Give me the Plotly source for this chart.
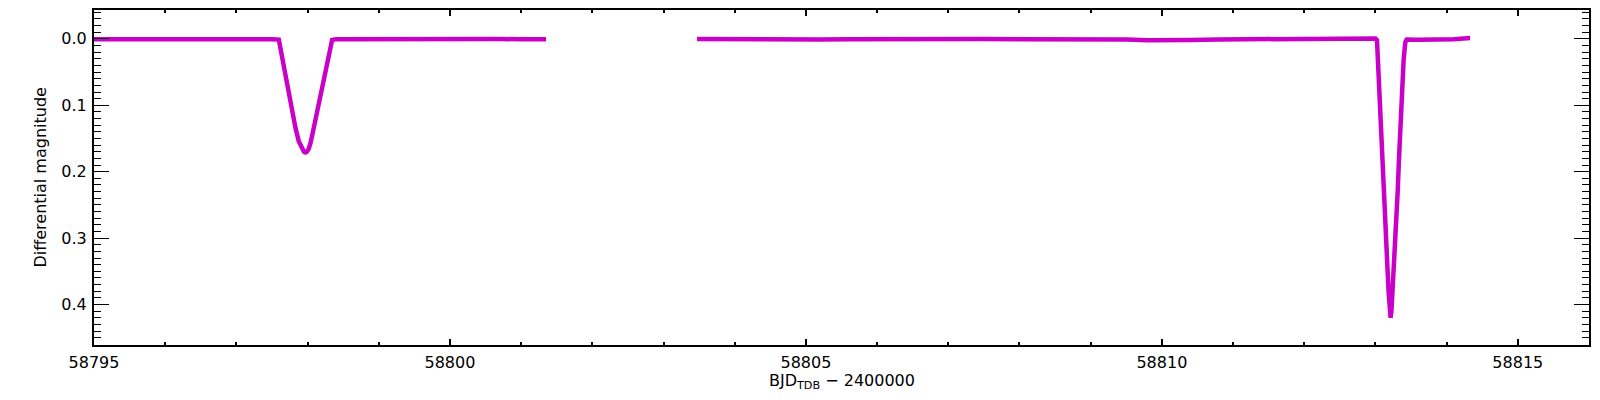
import plotly.graph_objects as go

# ---- data ----
# Segment 1 (before the data gap), contains the shallower eclipse
time_seg1 = [58795.00, 58795.40, 58795.80, 58796.20, 58796.60, 58797.00, 58797.30, 58797.50,
             58797.596, 58797.619, 58797.657, 58797.690, 58797.736, 58797.783, 58797.830, 58797.876,
             58797.924, 58797.950, 58797.970, 58797.990, 58798.015, 58798.041, 58798.087, 58798.135,
             58798.181, 58798.228, 58798.275, 58798.312, 58798.345, 58798.40, 58798.70,
             58799.10, 58799.50, 58799.90, 58800.30, 58800.70, 58801.00, 58801.35]
mag_seg1 = [0.0005, 0.0003, 0.0000, 0.0004, 0.0001, 0.0000, 0.0002, 0.0005,
            0.0010, 0.014, 0.034, 0.059, 0.084, 0.109, 0.134, 0.154,
            0.167, 0.170, 0.171, 0.170, 0.166, 0.157, 0.134, 0.109,
            0.084, 0.059, 0.031, 0.0115, 0.0015, 0.0005, 0.0003,
            0.0004, 0.0002, 0.0003, 0.0001, 0.0002, 0.0006, 0.0004]

# Segment 2 (after the data gap), contains the deeper eclipse
time_seg2 = [58803.47, 58803.90, 58804.30, 58804.60, 58804.90, 58805.20, 58805.60, 58806.00,
             58806.50, 58807.00, 58807.50, 58808.00, 58808.50, 58809.00, 58809.50, 58809.80,
             58810.10, 58810.40, 58810.80, 58811.20, 58811.60, 58812.00, 58812.40, 58812.80,
             58813.00, 58813.022, 58813.036, 58813.059, 58813.078, 58813.101, 58813.125, 58813.143,
             58813.163, 58813.185, 58813.200, 58813.213, 58813.226, 58813.241, 58813.269, 58813.293,
             58813.312, 58813.331, 58813.350, 58813.368, 58813.396, 58813.420, 58813.440, 58813.60,
             58813.90, 58814.10, 58814.33]
mag_seg2 = [0.0000, 0.0003, 0.0012, 0.0022, 0.0018, 0.0010, 0.0005, 0.0008,
            0.0004, 0.0006, 0.0003, 0.0005, 0.0002, 0.0000, 0.0008, 0.0020,
            0.0024, 0.0018, 0.0008, 0.0005, 0.0006, 0.0003, 0.0002, -0.0008,
            -0.0005, 0.0020, 0.0315, 0.0815, 0.131, 0.181, 0.231, 0.281,
            0.331, 0.381, 0.408, 0.420, 0.408, 0.381, 0.331, 0.281,
            0.231, 0.181, 0.131, 0.0815, 0.0315, 0.0050, 0.0010, 0.0012,
            0.0015, 0.0005, -0.0012]

x_tick_vals = [58795, 58800, 58805, 58810, 58815]
x_tick_text = ["58795", "58800", "58805", "58810", "58815"]
y_tick_vals = [0.0, 0.1, 0.2, 0.3, 0.4]
y_tick_text = ["0.0", "0.1", "0.2", "0.3", "0.4"]

x_title = "BJD<sub>TDB</sub> \u2212 2400000"
y_title = "Differential magnitude"

COLOR = "#C800C8"
FONT = "DejaVu Sans"

fig = go.Figure()
for t, m in ((time_seg1, mag_seg1), (time_seg2, mag_seg2)):
    fig.add_trace(go.Scatter(x=t, y=m, mode="lines",
                             line=dict(color=COLOR, width=4.5),
                             showlegend=False, hoverinfo="skip"))

# the page body has an 8 px margin, so the figure is sized to sit inside it
fig.update_layout(
    width=1584, height=384,
    margin=dict(l=86, r=3, t=0, b=47),
    paper_bgcolor="white", plot_bgcolor="white",
    font=dict(family=FONT, size=16, color="black"),
    showlegend=False,
)

fig.update_xaxes(
    range=[58795, 58816],
    tickvals=x_tick_vals, ticktext=x_tick_text,
    ticks="inside", ticklen=6, tickwidth=2, tickcolor="black",
    minor=dict(dtick=1, tick0=58795, ticks="inside", ticklen=3, tickwidth=2, tickcolor="black", showgrid=False),
    showline=True, linewidth=2, linecolor="black", mirror="ticks",
    showgrid=False, zeroline=False,
    tickfont=dict(family=FONT, size=16, color="black"),
    ticklabelstandoff=2,
)
fig.update_yaxes(
    range=[0.461, -0.0435],
    tickvals=y_tick_vals, ticktext=y_tick_text,
    ticks="inside", ticklen=15, tickwidth=1, tickcolor="black",
    minor=dict(dtick=0.01, tick0=0, ticks="inside", ticklen=7, tickwidth=1, tickcolor="black", showgrid=False),
    showline=True, linewidth=2, linecolor="black", mirror="ticks",
    showgrid=False, zeroline=False,
    tickfont=dict(family=FONT, size=16, color="black"),
    ticklabelstandoff=2,
)

fig.add_annotation(text=x_title, xref="paper", yref="paper", x=0.5, y=-0.109,
                   xanchor="center", yanchor="middle", showarrow=False,
                   font=dict(family=FONT, size=16, color="black"))
fig.add_annotation(text=y_title, xref="paper", yref="paper", x=-0.0361, y=0.5,
                   xanchor="center", yanchor="middle", textangle=-90, showarrow=False,
                   font=dict(family=FONT, size=16, color="black"))

fig.write_html("out.html")
